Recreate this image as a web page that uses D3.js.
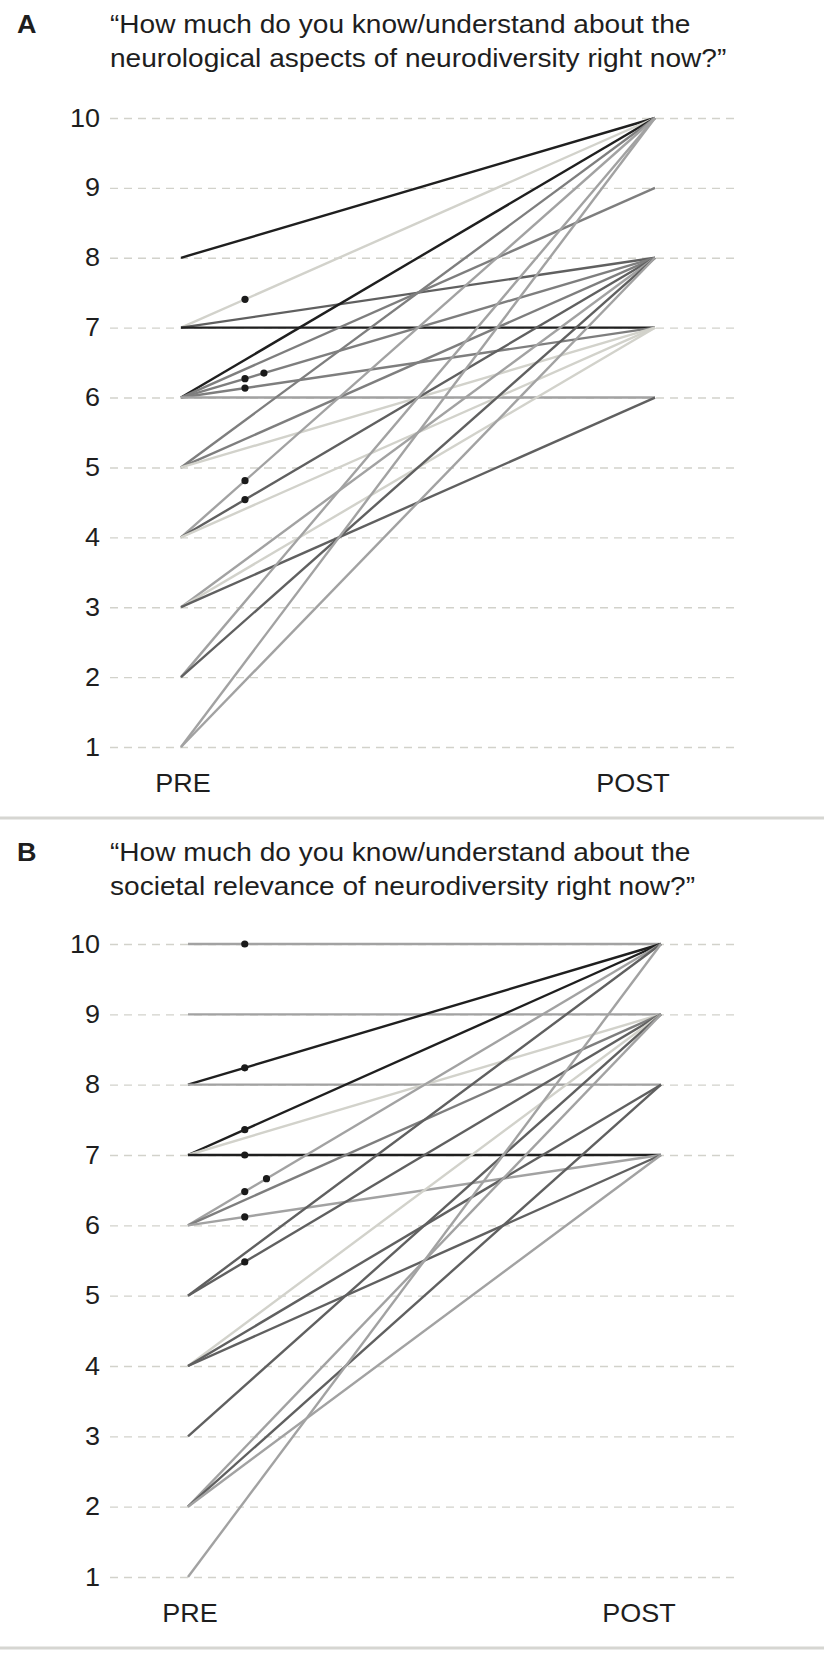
<!DOCTYPE html>
<html>
<head>
<meta charset="utf-8">
<script src="https://cdn.jsdelivr.net/npm/d3@7"></script>
<style>
  body { margin: 0; background: #fff; }
  svg { display: block; }
  text { font-family: "Liberation Sans", Arial, Helvetica, sans-serif; fill: #1e1e1e; }
</style>
</head>
<body>
<svg width="824" height="1667"></svg>
<script>
const scoreTicks = [1, 2, 3, 4, 5, 6, 7, 8, 9, 10];
const timeLabels = ["PRE", "POST"];

// A: neurological aspects
const titleA = ["\u201CHow much do you know/understand about the", "neurological aspects of neurodiversity right now?\u201D"];
const preA   = [8, 7, 7, 7, 6, 6, 6, 6, 6, 5, 5, 5, 4, 4, 4, 3, 3, 3, 2, 2, 1, 1];
const postA  = [10, 10, 8, 7, 10, 9, 8, 7, 6, 10, 8, 7, 10, 8, 7, 8, 7, 6, 10, 8, 10, 8];
const countA = [1, 2, 1, 1, 1, 1, 3, 2, 1, 1, 1, 1, 2, 2, 1, 1, 1, 1, 1, 1, 1, 1];
const toneA  = [0, 4, 1, 0, 0, 2, 2, 2, 3, 2, 2, 4, 3, 1, 4, 3, 4, 1, 3, 1, 3, 3];

// B: societal relevance
const titleB = ["\u201CHow much do you know/understand about the", "societal relevance of neurodiversity right now?\u201D"];
const preB   = [10, 9, 8, 8, 7, 7, 7, 6, 6, 6, 5, 5, 4, 4, 4, 3, 2, 2, 2, 1];
const postB  = [10, 9, 10, 8, 10, 9, 7, 10, 9, 7, 10, 9, 9, 8, 7, 9, 9, 8, 7, 10];
const countB = [2, 1, 2, 1, 2, 1, 2, 3, 1, 2, 1, 2, 1, 1, 1, 1, 1, 1, 1, 1];
const toneB  = [3, 3, 0, 3, 0, 4, 0, 3, 2, 3, 1, 1, 4, 1, 1, 1, 3, 1, 3, 3];

const svg = d3.select("svg");
const tone = d3.scaleOrdinal().domain([0, 1, 2, 3, 4])
  .range(["#1f1f1f", "#606060", "#7e7e7e", "#a2a2a2", "#d2d2cb"]);

// the source glyphs are a bit wider than Liberation Sans
const stretch = 1.08;

const panels = [
  { letter: "A", title: titleA, pre: preA, post: postA, count: countA, tone: toneA,
    titleY: 33, x0: 181, x1: 655, y10: 118, y1: 747, dotT: [0.135, 0.175] },
  { letter: "B", title: titleB, pre: preB, post: postB, count: countB, tone: toneB,
    titleY: 861, x0: 188, x1: 661, y10: 944, y1: 1577, dotT: [0.12, 0.166] }
];

function label(g, x, y, txt, size, anchor) {
  return g.append("text")
    .attr("transform", `translate(${x},${y}) scale(${stretch},1)`)
    .attr("text-anchor", anchor || "start")
    .attr("font-size", size)
    .text(txt);
}

panels.forEach(p => {
  const g = svg.append("g");
  const x = d3.scaleLinear().domain([0, 1]).range([p.x0, p.x1]);
  const y = d3.scaleLinear().domain([1, 10]).range([p.y1, p.y10]);

  // title
  label(g, 17, p.titleY, p.letter, 25).attr("font-weight", "bold");
  p.title.forEach((t, i) => label(g, 110, p.titleY + i * 34, t, 26));

  // y axis with dashed grid
  const axis = g.append("g").attr("transform", "translate(110,0)")
    .call(d3.axisLeft(y).tickValues(scoreTicks).tickSize(-625).tickPadding(10));
  axis.select(".domain").remove();
  axis.selectAll(".tick line")
    .attr("stroke", "#d2d2cb").attr("stroke-width", 1.4).attr("stroke-dasharray", "8,6");
  axis.selectAll(".tick text")
    .attr("font-size", 25).attr("fill", "#1e1e1e")
    .attr("transform", `scale(${stretch},1)`)
    .attr("x", -10 / stretch)
    .style("font-family", "'Liberation Sans', Arial, sans-serif");

  // lines
  const rows = p.pre.map((v, i) => ({ pre: v, post: p.post[i], n: p.count[i], tone: p.tone[i] }));
  g.append("g").selectAll("line").data(rows).join("line")
    .attr("x1", x(0)).attr("y1", d => y(d.pre))
    .attr("x2", x(1)).attr("y2", d => y(d.post))
    .attr("stroke", d => tone(d.tone))
    .attr("stroke-width", 2.4);

  // dots mark repeated responses (n - 1 dots)
  const dots = [];
  rows.forEach(d => {
    for (let k = 0; k < d.n - 1; k++) {
      const t = p.dotT[k];
      dots.push({ t: t, v: d.pre + (d.post - d.pre) * t });
    }
  });
  g.append("g").selectAll("circle").data(dots).join("circle")
    .attr("cx", d => x(d.t)).attr("cy", d => y(d.v))
    .attr("r", 3.6).attr("fill", "#1a1a1a");

  // PRE / POST labels
  label(g, x(0) + 2, p.y1 + 45, timeLabels[0], 25, "middle");
  label(g, x(1) - 22, p.y1 + 45, timeLabels[1], 25, "middle");

  // divider
  g.append("line").attr("x1", 0).attr("x2", 824)
    .attr("y1", p.y1 + 71).attr("y2", p.y1 + 71)
    .attr("stroke", "#d6d6d2").attr("stroke-width", 3);
});
</script>
</body>
</html>
